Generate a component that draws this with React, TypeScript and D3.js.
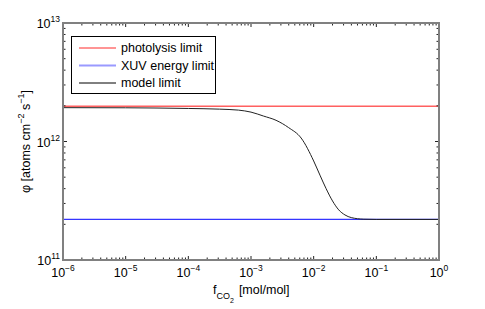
import * as d3 from 'd3';
import React from 'react';

// fCO2 [mol/mol] sample points along the model curve
const fco2 = [1e-6, 1e-5, 1e-4, 3.16e-4, 6.31e-4, 1e-3, 1.58e-3, 2.51e-3, 3.98e-3, 6.31e-3, 1e-2, 1.26e-2, 1.58e-2, 2e-2, 2.51e-2, 3.16e-2, 3.98e-2, 6.31e-2, 0.1, 1];
// escape flux of the model limit [atoms cm^-2 s^-1]
const modelLimit = [1.93e12, 1.925e12, 1.9e12, 1.875e12, 1.84e12, 1.77e12, 1.64e12, 1.51e12, 1.31e12, 1.07e12, 6.85e11, 5.2e11, 4.0e11, 3.15e11, 2.65e11, 2.4e11, 2.28e11, 2.21e11, 2.2e11, 2.2e11];
const photolysisLimit = 1.98e12;
const xuvLimit = 2.2e11;

const xDecades = [-6, -5, -4, -3, -2, -1, 0];
const yDecades = [11, 12, 13];
const legendNames = ['photolysis limit', 'XUV energy limit', 'model limit'];

const W = 485;
const H = 309;
const margin = { top: 23, right: 46, bottom: 49, left: 63 };
const FONT = '"Liberation Sans", Arial, sans-serif';

const App = () => {
	const x = d3.scaleLog().domain([1e-6, 1]).range([margin.left, W - margin.right]);
	const y = d3.scaleLog().domain([1e11, 1e13]).range([H - margin.bottom, margin.top]);
	const [x0, x1] = x.range();
	const [y0, y1] = y.range();

	const line = d3
		.line<number>()
		.x((d, i) => x(fco2[i]))
		.y(d => y(d))
		.curve(d3.curveMonotoneX);

	const xMinor: number[] = [];
	xDecades.slice(0, -1).forEach(e => {
		for (let k = 2; k < 10; k++) xMinor.push(k * Math.pow(10, e));
	});
	const yMinor: number[] = [];
	yDecades.slice(0, -1).forEach(e => {
		for (let k = 2; k < 10; k++) yMinor.push(k * Math.pow(10, e));
	});

	const legendColors = ['#ff2a2a', '#9a9aff', '#000000'];
	const legendWidths = [1, 2, 1];

	return (
		<svg width={W} height={H} style={{ position: 'absolute', left: 0, top: 0, background: '#fff' }} fontFamily={FONT}>
			{/* limits */}
			<line x1={x0} x2={x1} y1={y(photolysisLimit)} y2={y(photolysisLimit)} stroke="#ff6060" strokeWidth={1.5} />
			<line x1={x0} x2={x1} y1={y(xuvLimit)} y2={y(xuvLimit)} stroke="#3535ff" strokeWidth={1.2} />
			<path d={line(modelLimit) || ''} fill="none" stroke="#222" strokeWidth={1} />

			{/* ticks */}
			<g stroke="#222" strokeWidth={1}>
				{xMinor.map((v, i) => (
					<g key={'xm' + i}>
						<line x1={x(v)} x2={x(v)} y1={y0} y2={y0 - 2.5} />
						<line x1={x(v)} x2={x(v)} y1={y1} y2={y1 + 2.5} />
					</g>
				))}
				{xDecades.map(e => (
					<g key={'xM' + e}>
						<line x1={x(Math.pow(10, e))} x2={x(Math.pow(10, e))} y1={y0} y2={y0 - 4} />
						<line x1={x(Math.pow(10, e))} x2={x(Math.pow(10, e))} y1={y1} y2={y1 + 4} />
					</g>
				))}
				{yMinor.map((v, i) => (
					<g key={'ym' + i}>
						<line x1={x0} x2={x0 + 2.5} y1={y(v)} y2={y(v)} />
						<line x1={x1} x2={x1 - 2.5} y1={y(v)} y2={y(v)} />
					</g>
				))}
				{yDecades.map(e => (
					<g key={'yM' + e}>
						<line x1={x0} x2={x0 + 4} y1={y(Math.pow(10, e))} y2={y(Math.pow(10, e))} />
						<line x1={x1} x2={x1 - 4} y1={y(Math.pow(10, e))} y2={y(Math.pow(10, e))} />
					</g>
				))}
			</g>

			{/* frame */}
			<rect x={x0} y={y1} width={x1 - x0} height={y0 - y1} fill="none" stroke="#808080" strokeWidth={2} />

			{/* x tick labels */}
			{xDecades.map(e => (
				<text key={'xl' + e} x={x(Math.pow(10, e))} y={y0 + 17} textAnchor="middle" fontSize={12.5} fill="#000">
					10
					<tspan dy={-6} fontSize={8.5}>
						{e === 0 ? '0' : '\u2212' + Math.abs(e)}
					</tspan>
				</text>
			))}

			{/* y tick labels */}
			{yDecades.map(e => (
				<text key={'yl' + e} x={x0 - 3} y={y(Math.pow(10, e)) + 5} textAnchor="end" fontSize={12.5} fill="#000">
					10
					<tspan dy={-6} fontSize={8.5}>
						{e}
					</tspan>
				</text>
			))}

			{/* x axis title */}
			<text x={213} y={294} fontSize={12.5} fill="#000">
				f
				<tspan dy={5} fontSize={9}>
					CO
				</tspan>
				<tspan dy={4} fontSize={7}>
					2
				</tspan>
				<tspan dy={-9} dx={5}>
					[mol/mol]
				</tspan>
			</text>

			{/* y axis title */}
			<text transform={`translate(30,${(y0 + y1) / 2}) rotate(-90)`} textAnchor="middle" fontSize={12.5} fill="#000">
				φ [atoms cm
				<tspan dy={-6} fontSize={9}>
					−2
				</tspan>
				<tspan dy={6}> s</tspan>
				<tspan dy={-6} fontSize={9}>
					−1
				</tspan>
				<tspan dy={6}>]</tspan>
			</text>

			{/* legend */}
			<rect x={71.5} y={36.5} width={144} height={57} fill="#fff" stroke="#000" strokeWidth={1} />
			{legendNames.map((name, i) => (
				<g key={name}>
					<line x1={79} x2={116} y1={48 + i * 17.5} y2={48 + i * 17.5} stroke={legendColors[i]} strokeWidth={legendWidths[i]} />
					<text x={121} y={52 + i * 17.5} fontSize={12.5} fill="#000">
						{name}
					</text>
				</g>
			))}
		</svg>
	);
};

export default App;
